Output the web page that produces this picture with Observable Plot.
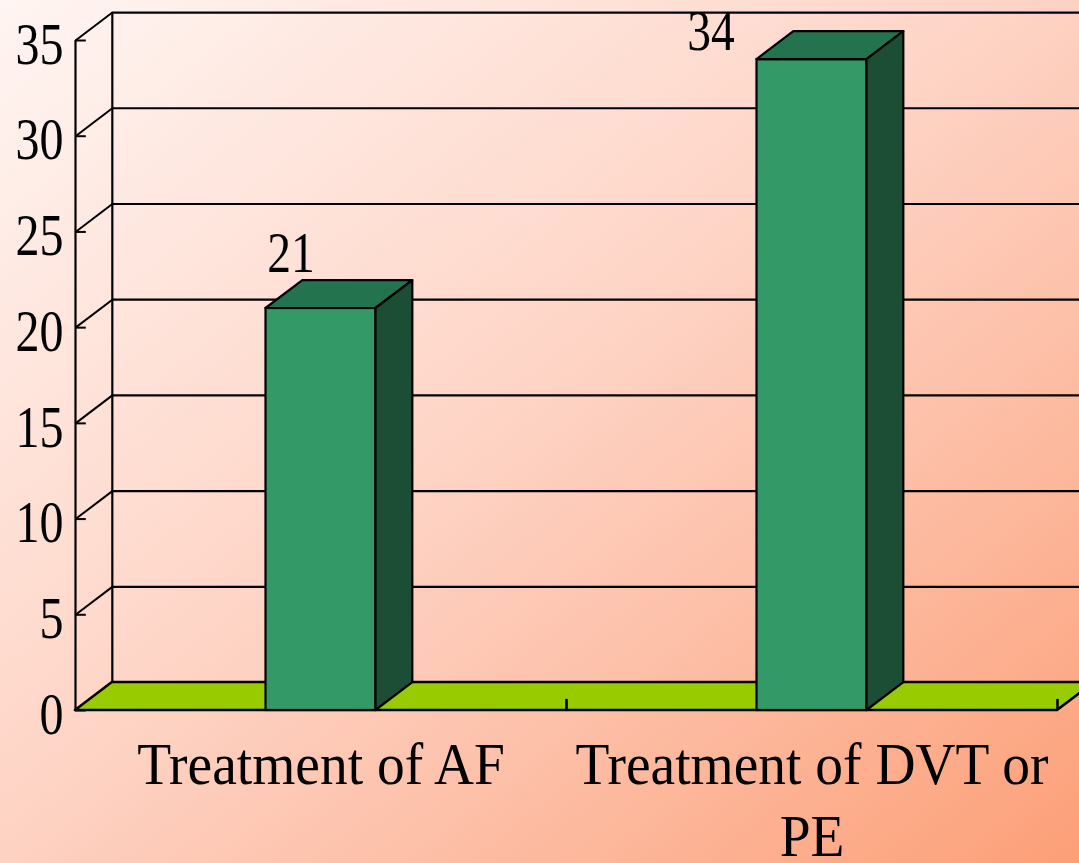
<!DOCTYPE html>
<html>
<head>
<meta charset="utf-8">
<script src="https://cdn.jsdelivr.net/npm/d3@7"></script>
<script src="https://cdn.jsdelivr.net/npm/@observablehq/plot@0.6"></script>
<style>
  html, body { margin: 0; padding: 0; overflow: hidden; }
  #chart {
    width: 1079px; height: 863px; overflow: hidden;
    background: linear-gradient(to bottom right, #fff5f2 0%, #fed6c8 45%, #fdc3ad 65%, #fc9f77 100%);
  }
</style>
</head>
<body>
<div id="chart"></div>
<script>
// Chart values
const categories = ["Treatment of AF", "Treatment of DVT or\nPE"];
const values = [21, 34];
const yTicks = [0, 5, 10, 15, 20, 25, 30, 35];

// 3D look: depth of the back wall / bar bodies, in scale units
const DX = 0.075;   // horizontal depth (x units)
const DY = 1.46;    // vertical depth (y units)
const HALF = 0.112; // half bar width (x units)

const bars = categories.map((c, i) => ({category: c, pos: i + 0.5, value: values[i]}));

const topFaces = bars.flatMap(b => [
  {category: b.category, y: b.value, x1: b.pos - HALF, x2: b.pos + HALF},
  {category: b.category, y: b.value + DY, x1: b.pos - HALF + DX, x2: b.pos + HALF + DX}
]);
const sideFaces = bars.flatMap(b => [
  {category: b.category, x: b.pos + HALF, y1: 0, y2: b.value},
  {category: b.category, x: b.pos + HALF + DX, y1: DY, y2: b.value + DY}
]);
const floor = [
  {y: 0, x1: 0, x2: categories.length},
  {y: DY, x1: DX, x2: categories.length + DX}
];

const ink = "black";
const font = "Liberation Serif, Times New Roman, serif";

const plot = Plot.plot({
  width: 1079,
  height: 863,
  marginLeft: 75,
  marginRight: 22,
  marginTop: 40,
  marginBottom: 153,
  style: {background: "transparent", fontFamily: font, color: "black", overflow: "visible"},
  x: {type: "linear", domain: [0, categories.length], axis: null},
  y: {type: "linear", domain: [0, 35], axis: null},
  marks: [
    // back wall: gridlines and left edge
    Plot.ruleY(yTicks, {y: d => d + DY, x1: () => DX, x2: () => 2.3, stroke: ink, strokeWidth: 2.2}),
    Plot.ruleX([DX], {y1: () => DY, y2: () => 35 + DY, stroke: ink, strokeWidth: 2.2}),
    // side wall: diagonals from front ticks to back gridlines
    Plot.link(yTicks, {x1: () => 0, y1: d => d, x2: () => DX, y2: d => d + DY, stroke: ink, strokeWidth: 2}),
    // floor
    Plot.areaX(floor, {y: "y", x1: "x1", x2: "x2", fill: "#99cc00", stroke: ink, strokeWidth: 2.6}),
    // front value axis
    Plot.ruleX([0], {y1: () => 0, y2: () => 35, stroke: ink, strokeWidth: 2.2}),
    Plot.ruleY(yTicks, {y: d => d, x1: () => 0, x2: () => 0.022, stroke: ink, strokeWidth: 2}),
    // category ticks on floor edge
    Plot.ruleX([1, 2], {x: d => d, y1: () => 0, y2: () => 0.58, stroke: ink, strokeWidth: 2.6}),
    // bars: front, top, side
    Plot.rect(bars, {x1: d => d.pos - HALF, x2: d => d.pos + HALF, y1: () => 0, y2: "value", fill: "#339966", stroke: ink, strokeWidth: 2.2}),
    Plot.areaX(topFaces, {y: "y", x1: "x1", x2: "x2", z: "category", fill: "#24734f", stroke: ink, strokeWidth: 2.2}),
    Plot.areaY(sideFaces, {x: "x", y1: "y1", y2: "y2", z: "category", fill: "#1c4d35", stroke: ink, strokeWidth: 2.2}),
    // y tick labels
    Plot.text(yTicks, {x: () => 0, y: d => d, text: d => String(d), textAnchor: "end", dx: -12, dy: 4,
      fontSize: 60, fill: ink}),
    // category labels
    Plot.text(bars, {x: "pos", y: () => 0, text: "category", lineAnchor: "top", lineHeight: 1.21, dy: 23,
      fontSize: 59, fill: ink}),
    // value labels
    Plot.text(bars.slice(0, 1), {x: "pos", y: "value", text: d => String(d.value), dx: -30, dy: -55,
      fontSize: 58, fill: ink}),
    Plot.text(bars.slice(1, 2), {x: "pos", y: "value", text: d => String(d.value), dx: -101, dy: -28,
      fontSize: 58, fill: ink})
  ]
});

// narrow the glyphs horizontally around each label's anchor
const textGroups = plot.querySelectorAll('g[aria-label="text"]');
const squeezeBy = [0.8, 0.94, 0.82, 0.82];
textGroups.forEach((g, i) => {
  const k = squeezeBy[i] ?? 1;
  g.querySelectorAll("text").forEach(t => {
    t.setAttribute("transform", (t.getAttribute("transform") || "") + ` scale(${k},1)`);
  });
});

document.getElementById("chart").appendChild(plot);
</script>
</body>
</html>
